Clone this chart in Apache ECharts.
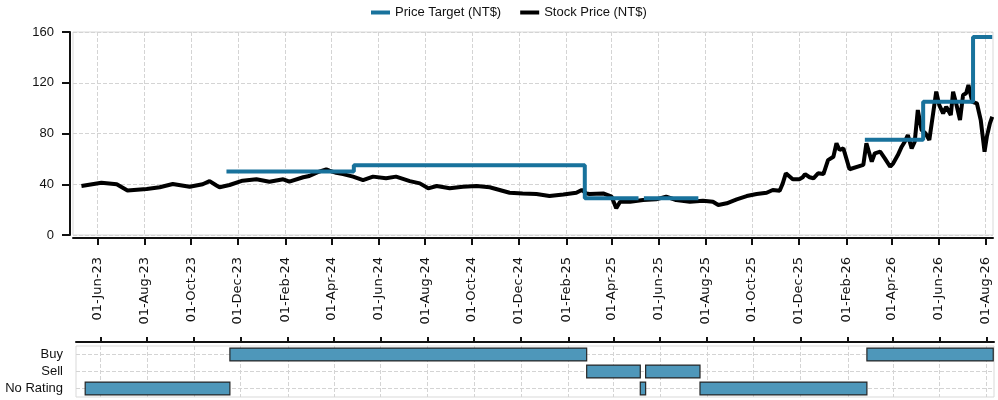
<!DOCTYPE html>
<html>
<head>
<meta charset="utf-8">
<script src="https://cdn.jsdelivr.net/npm/echarts@6/dist/echarts.min.js"></script>
<style>
html, body { margin: 0; padding: 0; background: #fff; }
#main { width: 998px; height: 400px; }
</style>
</head>
<body>
<div id="main"></div>
<script>
// stock price
var stockDates = ['2023-05-11','2023-06-06','2023-06-26','2023-07-10','2023-08-04','2023-08-21','2023-09-07','2023-09-29','2023-10-16','2023-10-25',
	'2023-11-03','2023-11-07','2023-11-20','2023-12-07','2023-12-25','2024-01-11','2024-01-29','2024-02-06','2024-02-24','2024-03-03',
	'2024-03-14','2024-03-25','2024-03-29','2024-04-07','2024-04-16','2024-04-29','2024-05-12','2024-05-25','2024-06-11','2024-06-24',
	'2024-07-12','2024-07-25','2024-08-05','2024-08-16','2024-09-02','2024-09-19','2024-10-07','2024-10-24','2024-11-06','2024-11-19',
	'2024-12-06','2024-12-24','2025-01-10','2025-01-28','2025-02-14','2025-02-21','2025-02-27','2025-03-03','2025-03-21','2025-04-01',
	'2025-04-07','2025-04-12','2025-04-25','2025-05-12','2025-05-29','2025-06-11','2025-06-24','2025-07-12','2025-07-29','2025-08-11',
	'2025-08-18','2025-08-29','2025-09-11','2025-09-24','2025-10-07','2025-10-20','2025-10-28','2025-11-06','2025-11-10','2025-11-14',
	'2025-11-23','2025-12-02','2025-12-06','2025-12-09','2025-12-15','2025-12-20','2025-12-26','2026-01-02','2026-01-08','2026-01-15',
	'2026-01-19','2026-01-23','2026-01-28','2026-02-05','2026-02-23','2026-02-27','2026-03-06','2026-03-10','2026-03-17','2026-03-23',
	'2026-03-30','2026-04-03','2026-04-09','2026-04-14','2026-04-18','2026-04-22','2026-04-27','2026-05-01','2026-05-05','2026-05-10',
	'2026-05-15','2026-05-20','2026-05-25','2026-05-29','2026-06-02','2026-06-07','2026-06-11','2026-06-17','2026-06-20','2026-06-25',
	'2026-06-29','2026-07-03','2026-07-07','2026-07-10','2026-07-13','2026-07-15','2026-07-21','2026-07-26','2026-07-31','2026-08-03',
	'2026-08-07','2026-08-10'];
var stockPrices = [38.6, 41.2, 40, 35, 36.2, 37.6, 40.2, 38, 40, 42.5,
	39, 37.6, 39.4, 42.8, 43.9, 42, 43.9, 42, 45.5, 46.5,
	49.6, 51.8, 50.7, 49, 48, 46, 43.3, 46, 44.7, 46,
	42.5, 40.7, 36.8, 38.6, 36.8, 38, 38.6, 37.6, 35.5, 33.3,
	32.8, 32.3, 30.7, 32, 33.3, 35.5, 32.8, 32.3, 32.8, 30.2,
	21, 26.2, 26.2, 27.6, 28.1, 30.2, 27.6, 26.2, 27, 26.2,
	23.6, 25, 28.1, 30.7, 32.3, 33.3, 35.5, 34.9, 40.7, 48.6,
	43.9, 44, 45.5, 48, 45.5, 44.7, 48.6, 48, 59, 61.7,
	72.3, 67, 68.3, 51.8, 55.2, 72.3, 57.8, 64.4, 65.7, 60.4,
	53.8, 56.5, 63, 69.6, 73.5, 78.8, 68.3, 73.5, 98.5, 82.7,
	80.1, 74.9, 95.9, 113, 102.4, 95.9, 101.1, 94.6, 113, 101.1,
	90.6, 110.3, 111.7, 118.2, 110.3, 105, 103.8, 90.6, 65.7, 77.5,
	88, 93.2];

// price target steps
var ptStart = ['2023-11-16','2024-04-30','2025-02-25','2025-05-13','2026-02-25','2026-05-12','2026-07-16'];
var ptEnd   = ['2024-04-30','2025-02-25','2025-05-06','2025-07-23','2026-05-12','2026-07-16','2026-08-10'];
var ptValue = [50, 55, 29, 29, 75, 105, 156];

// rating history
var ratingNames = ['No Rating', 'Sell', 'Buy'];
var ratingStart = ['2023-05-12','2023-11-17','2025-02-25','2025-05-06','2025-05-13','2025-07-23','2026-02-26'];
var ratingEnd   = ['2023-11-17','2025-02-25','2025-05-06','2025-05-13','2025-07-23','2026-02-26','2026-08-10'];
var ratingType  = ['No Rating','Buy','Sell','No Rating','Sell','No Rating','Buy'];

var tickDates = ['2023-06-01','2023-08-01','2023-10-01','2023-12-01','2024-02-01','2024-04-01','2024-06-01','2024-08-01','2024-10-01','2024-12-01',
	'2025-02-01','2025-04-01','2025-06-01','2025-08-01','2025-10-01','2025-12-01','2026-02-01','2026-04-01','2026-06-01','2026-08-01'];
var xMin = '2023-04-30', xMax = '2026-08-11';

var FONT = '"Liberation Sans", Arial, sans-serif';
var MONTHS = ['Jan','Feb','Mar','Apr','May','Jun','Jul','Aug','Sep','Oct','Nov','Dec'];
function ts(s) { return Date.UTC(+s.slice(0, 4), +s.slice(5, 7) - 1, +s.slice(8, 10)); }
function fmtDate(v) {
	var d = new Date(v);
	var dd = ('0' + d.getUTCDate()).slice(-2);
	return dd + '-' + MONTHS[d.getUTCMonth()] + '-' + String(d.getUTCFullYear()).slice(-2);
}

var tickVals = tickDates.map(ts);
// rating lanes sit at the middle of each unit band
var laneVals = ratingNames.map(function(n, i) { return i + 0.5; });
var stockData = stockDates.map(function(d, i) { return [ts(d), stockPrices[i]]; });
var ptData = [];
for (var i = 0; i < ptStart.length; i++) {
	if (i > 0 && ptStart[i] !== ptEnd[i - 1]) ptData.push(['-', '-']);
	ptData.push([ts(ptStart[i]), ptValue[i]]);
	ptData.push([ts(ptEnd[i]), ptValue[i]]);
}
var ratingData = ratingStart.map(function(s, i) {
	return [ts(s), ts(ratingEnd[i]), ratingNames.indexOf(ratingType[i]) + 0.5];
});

var myChart = echarts.init(document.getElementById('main'));
var option = {
	animation: false,
	textStyle: { fontFamily: FONT },
	legend: {
		top: 1,
		left: 366,
		itemWidth: 19,
		itemHeight: 4,
		itemGap: 19,
		icon: 'rect',
		textStyle: { fontSize: 13, color: '#111', fontFamily: FONT },
		data: ['Price Target (NT$)', 'Stock Price (NT$)']
	},
	grid: [
		{ left: 73, right: 5, top: 32, height: 203, show: true, borderColor: '#d9d9d9', borderWidth: 1 },
		{ left: 76, right: 4, top: 346, height: 51, show: true, borderColor: '#d9d9d9', borderWidth: 1 }
	],
	xAxis: [{
		type: 'value',
		gridIndex: 0,
		min: ts(xMin),
		max: ts(xMax),
		offset: 3,
		axisLine: { onZero: false, lineStyle: { color: '#111', width: 2 } },
		axisTick: { length: 7, customValues: tickVals, lineStyle: { color: '#111', width: 2 } },
		axisLabel: {
			customValues: tickVals,
			rotate: 90,
			margin: 19,
			fontSize: 13,
			fontFamily: '"DejaVu Sans", sans-serif',
			color: '#111',
			formatter: function(v) { return fmtDate(v); }
		},
		splitLine: { show: true, lineStyle: { color: '#d4d4d4', type: 'dashed', width: 1 } }
	}, {
		type: 'value',
		gridIndex: 1,
		position: 'top',
		min: ts(xMin),
		max: ts(xMax),
		offset: 4,
		axisLine: { onZero: false, lineStyle: { color: '#111', width: 2 } },
		axisTick: { length: 5, customValues: tickVals, lineStyle: { color: '#111', width: 2 } },
		axisLabel: { show: false, customValues: tickVals },
		splitLine: { show: true, lineStyle: { color: '#d4d4d4', type: 'dashed', width: 1 } }
	}],
	yAxis: [{
		type: 'value',
		gridIndex: 0,
		min: 0,
		max: 160,
		interval: 40,
		offset: 3,
		axisLine: { show: true, onZero: false, lineStyle: { color: '#111', width: 2 } },
		axisTick: { show: true, length: 8, lineStyle: { color: '#111', width: 2 } },
		axisLabel: { fontSize: 13, color: '#111', margin: 16 },
		splitLine: { show: true, lineStyle: { color: '#d4d4d4', type: 'dashed', width: 1 } }
	}, {
		type: 'value',
		gridIndex: 1,
		min: 0,
		max: ratingNames.length,
		axisLine: { show: false, onZero: false },
		axisTick: { show: false, customValues: laneVals },
		axisLabel: {
			customValues: laneVals,
			fontSize: 13,
			color: '#111',
			margin: 13,
			formatter: function(v) { return ratingNames[Math.round(v - 0.5)]; }
		},
		splitLine: { show: true, lineStyle: { color: '#d4d4d4', type: 'dashed', width: 1 } }
	}],
	series: [{
		name: 'Stock Price (NT$)',
		type: 'line',
		xAxisIndex: 0,
		yAxisIndex: 0,
		showSymbol: false,
		color: '#000',
		lineStyle: { color: '#000', width: 4 },
		data: stockData
	}, {
		name: 'Price Target (NT$)',
		type: 'line',
		xAxisIndex: 0,
		yAxisIndex: 0,
		showSymbol: false,
		connectNulls: false,
		color: '#18729c',
		lineStyle: { color: '#18729c', width: 4 },
		data: ptData
	}, {
		name: 'Rating',
		type: 'custom',
		xAxisIndex: 1,
		yAxisIndex: 1,
		encode: { x: [0, 1], y: 2 },
		renderItem: function(params, api) {
			var c = api.value(2);
			var p0 = api.coord([api.value(0), c]);
			var p1 = api.coord([api.value(1), c]);
			var h = api.size([0, 1])[1] * 0.76;
			return {
				type: 'rect',
				shape: { x: p0[0], y: p0[1] - h / 2, width: p1[0] - p0[0], height: h },
				style: { fill: '#4e97ba', stroke: '#262626', lineWidth: 1.2 }
			};
		},
		z: 3,
		data: ratingData
	}]
};
myChart.setOption(option);
</script>
</body>
</html>
